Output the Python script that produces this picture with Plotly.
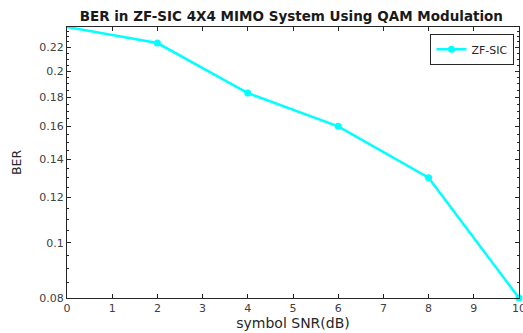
import plotly.graph_objects as go
import numpy as np

snr = [0, 2, 4, 6, 8, 10]
ber = [0.239, 0.224, 0.183, 0.160, 0.130, 0.080]
ytick_vals = [0.08, 0.1, 0.12, 0.14, 0.16, 0.18, 0.2, 0.22]
ytick_text = ["0.08", "0.1", "0.12", "0.14", "0.16", "0.18", "0.2", "0.22"]
xtick_vals = [0, 1, 2, 3, 4, 5, 6, 7, 8, 9, 10]
yminor_vals = [round(0.08 + 0.005 * i, 3) for i in range(33)]

font = "DejaVu Sans, sans-serif"

fig = go.Figure()
fig.add_trace(go.Scatter(
    x=snr, y=ber, mode="lines+markers", name="ZF-SIC",
    line=dict(color="#00FFFF", width=2.5),
    marker=dict(color="#00FFFF", size=7),
    cliponaxis=False,
))

axis_common = dict(
    showline=True, linecolor="#262626", linewidth=1, mirror="ticks",
    ticks="inside", ticklen=4, tickcolor="#262626", showgrid=False,
    zeroline=False, ticklabeloverflow="allow", automargin=False,
    tickfont=dict(family=font, size=11, color="#404040"),
)

fig.update_layout(
    width=523, height=333,
    margin=dict(l=67, r=4, t=27, b=35, autoexpand=False),
    paper_bgcolor="white", plot_bgcolor="white",
    title=dict(text="<b>BER in ZF-SIC 4X4 MIMO System Using QAM Modulation</b>",
               x=0.557, xanchor="center", y=0.95, yanchor="middle",
               font=dict(family=font, size=13.5, color="#1a1a1a")),
    xaxis=dict(range=[0, 10], tickvals=xtick_vals,
               title=dict(text="symbol SNR(dB)", standoff=2,
                          font=dict(family=font, size=14, color="#262626")),
               **axis_common),
    yaxis=dict(type="log", range=[np.log10(0.08), np.log10(0.239)],
               tickvals=ytick_vals, ticktext=ytick_text,
               minor=dict(tickvals=yminor_vals, ticks="inside", ticklen=2,
                          tickcolor="#262626", showgrid=False),
               title=dict(text="BER", standoff=14,
                          font=dict(family=font, size=12.5, color="#262626")),
               **axis_common),
    showlegend=True,
    legend=dict(x=0.99, y=0.975, xanchor="right", yanchor="top",
                bgcolor="white", bordercolor="#262626", borderwidth=1,
                font=dict(family=font, size=11, color="#262626"),
                itemwidth=30, tracegroupgap=0),
)

fig.write_html("out.html")
